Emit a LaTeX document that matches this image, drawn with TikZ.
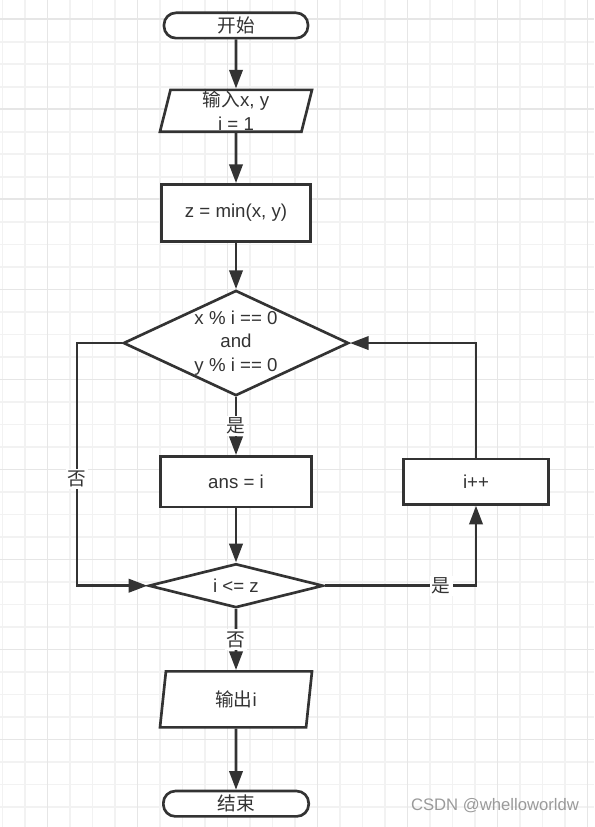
\documentclass[tikz,border=0pt]{standalone}
\usepackage{fontspec}
\setmainfont{Liberation Sans}
\newfontfamily\cjk{Noto Sans CJK SC}
\usepackage{tikz}
\usetikzlibrary{shapes.geometric, arrows.meta, positioning}
\definecolor{ink}{HTML}{333333}
\definecolor{gridminor}{HTML}{F2F2F2}
\definecolor{gridmajor}{HTML}{E6E6E6}
\definecolor{wmark}{HTML}{9A9A9A}

\begin{document}
\begin{tikzpicture}[
    x=0.75pt, y=-0.75pt,
    font=\fontsize{14}{17.6}\selectfont,
    term/.style={rectangle, draw=ink, fill=white, line width=2pt, rounded corners=9pt, minimum width=108pt, minimum height=19pt, inner sep=0pt, text=ink},
    io/.style={trapezium, trapezium stretches body, draw=ink, fill=white, line width=2pt, minimum width=114pt, align=center, inner sep=0pt, text=ink},
    proc/.style={rectangle, draw=ink, fill=white, line width=2pt, minimum width=112pt, minimum height=43pt, align=center, text=ink},
    cond/.style={diamond, draw=ink, fill=white, line width=2pt, inner sep=0pt, text=ink},
    arr/.style={-{Triangle[length=14pt, width=10pt]}, draw=ink, line width=2pt},
    lbl/.style={fill=white, inner sep=1.5pt, text=ink},
    gridline/.style={draw=gridminor, line width=1.2pt},
    gridbold/.style={draw=gridmajor, line width=1.2pt}
]

% Background grid
\fill[white] (0,0) rectangle (594,827);
\useasboundingbox (0,0) rectangle (594,827);
\foreach \gx in {0,...,26} \draw[gridline] ({2.5+22.5*\gx},0) -- ++(0,827);
\foreach \gy in {0,...,35} \draw[gridline] (0,{19.3+22.5*\gy}) -- ++(594,0);
\foreach \gx in {0,...,6} \draw[gridbold] ({47.5+90*\gx},0) -- ++(0,827);
\foreach \gy in {0,...,8} \draw[gridbold] (0,{19.3+90*\gy}) -- ++(594,0);

% Main column
\node[term] (start) at (236,25.5) {\cjk 开始};
\node[io, trapezium left angle=75, trapezium right angle=105, minimum height=31.4pt, below=36.75pt of start] (input) {{\cjk 输入}x, y\\i = 1};
\node[proc, below=37.5pt of input] (calc) {z = min(x, y)};
\node[cond, minimum width=169pt, minimum height=79pt, below=34.5pt of calc,
      label={[align=center, text=ink]center:x \% i == 0\\and\\y \% i == 0}] (test) {};
\node[proc, minimum width=113.5pt, minimum height=38pt, below=43.5pt of test] (ans) {ans = i};
\node[cond, shape aspect=3.8, minimum width=131pt, minimum height=33pt, below=40.5pt of ans] (check) {i <= z};
\node[io, trapezium left angle=71, trapezium right angle=109, minimum height=42pt, below=45.75pt of check] (output) {{\cjk 输出}i};
\node[term, minimum width=109pt, below=45.75pt of output] (stop) {\cjk 结束};

% Increment
\node[proc, minimum width=109pt, minimum height=34pt, right=66.75pt of ans] (inc) {i++};

% Arrows
\draw[arr] (start) -- (input);
\draw[arr] (input) -- (calc);
\draw[arr] (calc) -- (test);
\draw[arr] (test) -- node[lbl] {\cjk 是} (ans);
\draw[arr] (ans) -- (check);
\draw[arr] (check) -- node[lbl] {\cjk 否} (output);
\draw[arr] (output) -- (stop);
\draw[arr] (test.west) -- ++(-45,0) |- node[lbl, pos=0.28] {\cjk 否} (check.west);
\draw[arr] (check.east) -| node[lbl, pos=0.385] {\cjk 是} (inc.south);
\draw[arr] (inc.north) |- (test.east);

\node[text=wmark, font=\fontsize{12.5}{15}\selectfont] (credit) at (495,806) {CSDN @whelloworldw};

\end{tikzpicture}
\end{document}
